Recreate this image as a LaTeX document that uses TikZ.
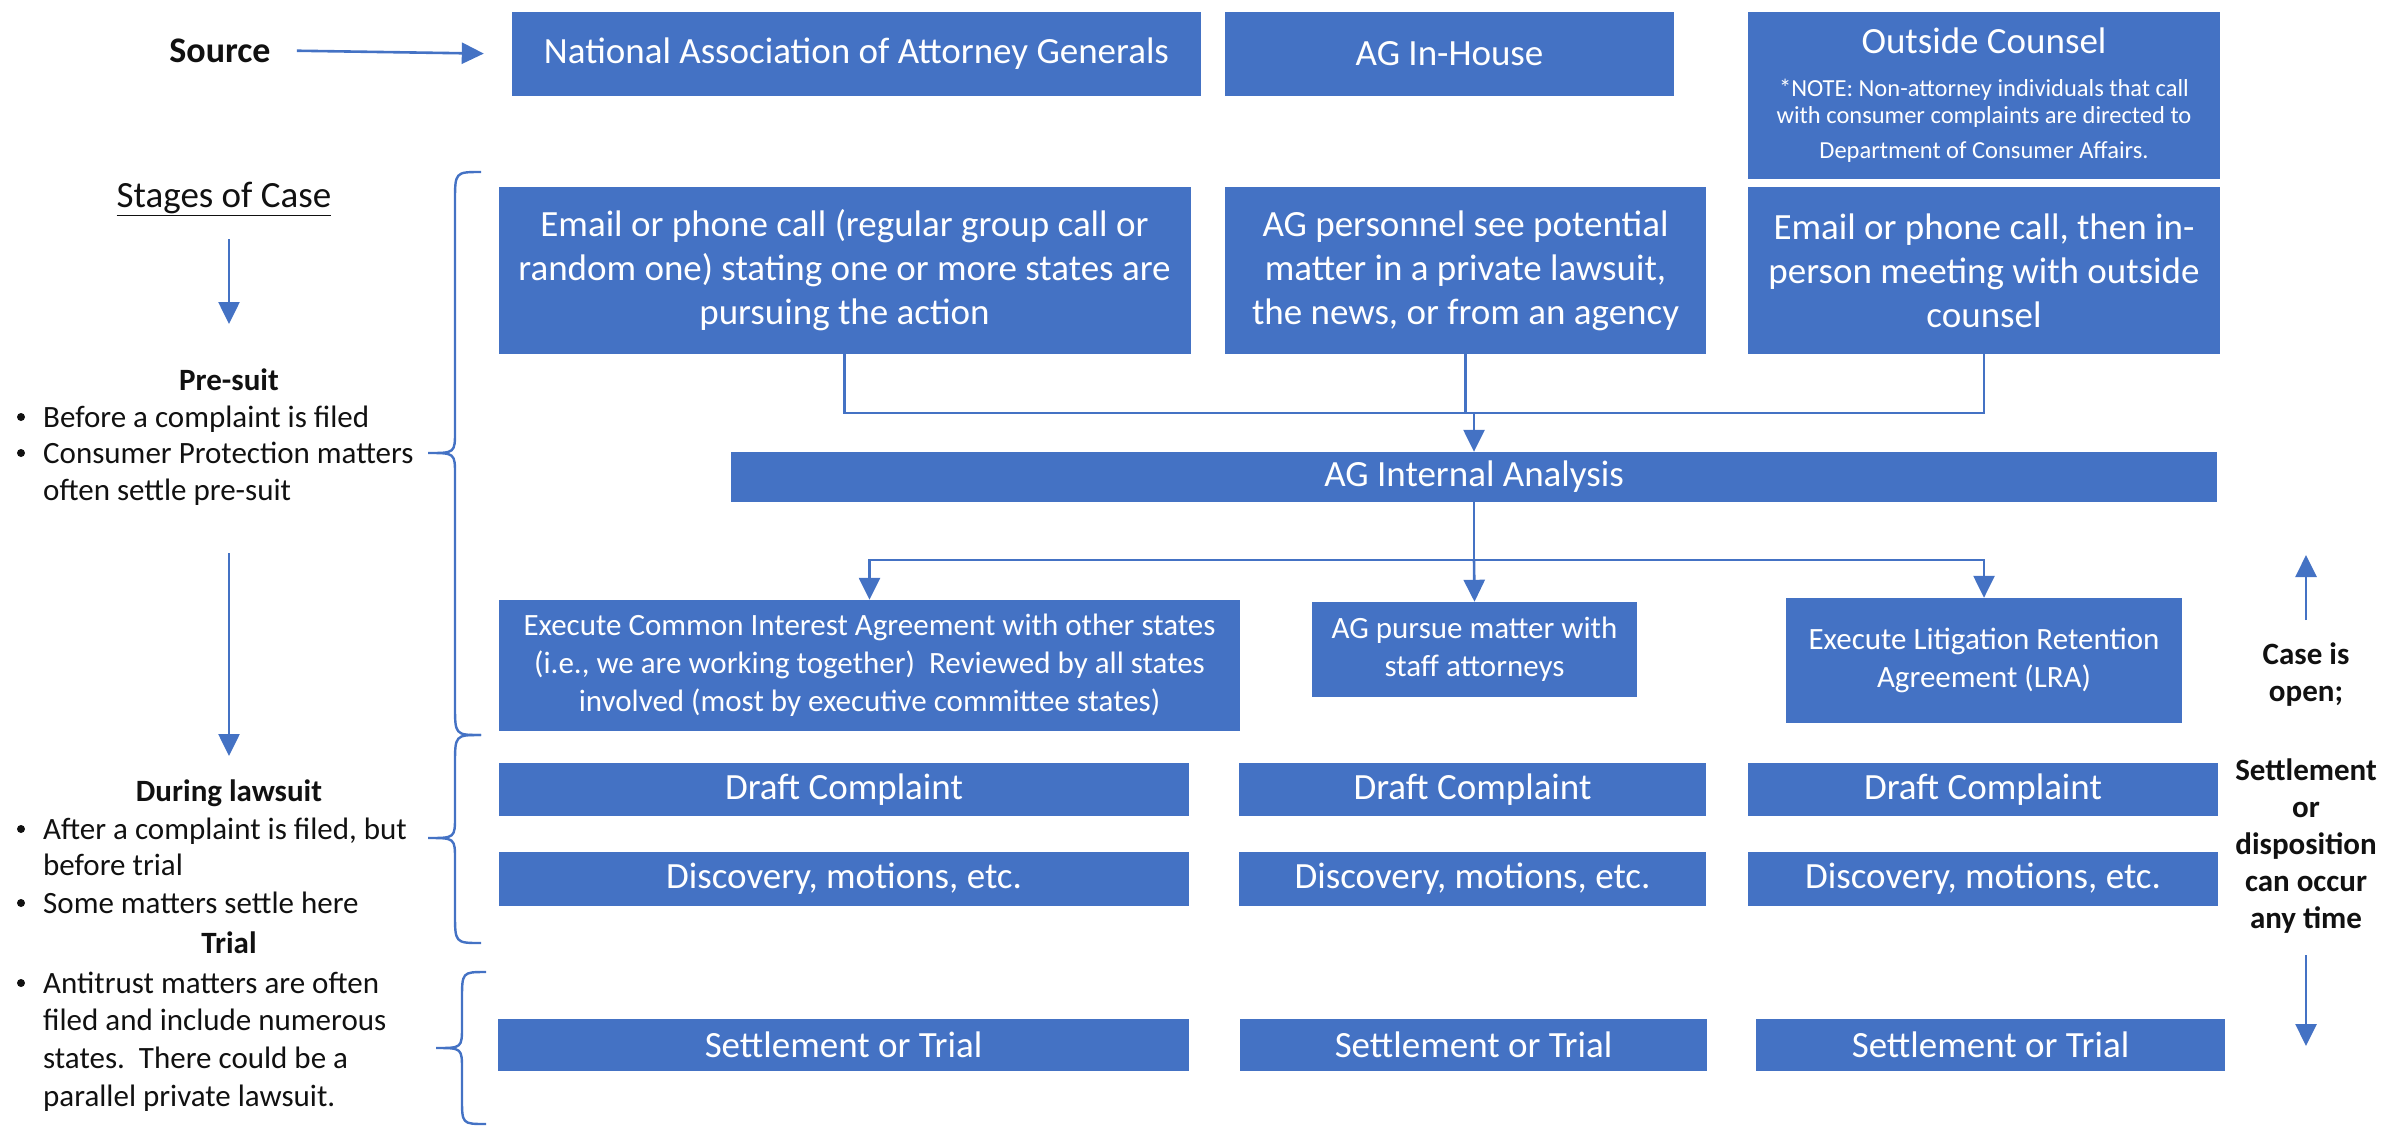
\documentclass[tikz,border=0pt]{standalone}
\usepackage{fontspec}
\setmainfont{Carlito}
\usetikzlibrary{arrows.meta,calc}
\definecolor{ofblue}{HTML}{4472C4}
\definecolor{inkc}{HTML}{111111}
\begin{document}
\begin{tikzpicture}[x=1pt,y=-1pt,
  box/.style={fill=ofblue, draw=none, text=white, inner sep=0pt, align=center,
    font=\fontsize{37}{44}\selectfont},
  sbox/.style={box, font=\fontsize{31}{38}\selectfont},
  boxtxt/.style={inner sep=0pt, text=white, font=\fontsize{37}{44}\selectfont},
  notetxt/.style={inner sep=0pt, text=white, font=\fontsize{24.5}{27}\selectfont},
  conn/.style={draw=ofblue, line width=2.6pt},
  arr/.style={conn, -{Triangle[width=21pt,length=22pt]}},
  bracestyle/.style={draw=ofblue, line width=2.4pt},
  sidetxt/.style={inner sep=0pt, text=inkc, font=\fontsize{31}{37}\selectfont},
  sidehead/.style={inner sep=0pt, text=inkc, font=\fontsize{31}{37}\selectfont\bfseries},
  bigtxt/.style={inner sep=0pt, text=inkc, font=\fontsize{37}{44}\selectfont},
  rtxt/.style={inner sep=0pt, text=inkc, align=center, font=\fontsize{31}{37}\selectfont\bfseries},
  bul/.style={circle, fill=inkc, inner sep=0pt, minimum size=8pt}
]
\useasboundingbox (0,0) rectangle (2384,1128);

% ---------- Source row ----------
\node[bigtxt, font=\fontsize{36}{44}\selectfont\bfseries, anchor=base] (source) at (220,62) {Source};
\node[box, minimum width=689pt, minimum height=84pt] (naag) at (856.5,54) {National Association of Attorney Generals};
\node[box, minimum width=449pt, minimum height=84pt] (inhouse) at (1449.5,54) {AG In-House};
\node[box, minimum width=472pt, minimum height=167pt] (outside) at (1984,95.5) {};
\node[boxtxt, anchor=base] (outsidetitle) at (1984,53) {Outside Counsel};
\node[notetxt, anchor=base] (note1) at (1984,96) {*NOTE: Non-attorney individuals that call};
\node[notetxt, anchor=base] (note2) at (1984,123) {with consumer complaints are directed to};
\node[notetxt, anchor=base] (note3) at (1984,158) {Department of Consumer Affairs.};
\draw[arr, shorten <=26pt, shorten >=28pt] (source.east) -- (naag.west);

% ---------- Row 2 ----------
\node[box, minimum width=692pt, minimum height=167pt] (email) at (844.5,270.5)
  {Email or phone call (regular group call or\\random one) stating one or more states are\\pursuing the action};
\node[box, minimum width=481pt, minimum height=167pt] (personnel) at (1465.5,270.5)
  {AG personnel see potential\\matter in a private lawsuit,\\the news, or from an agency};
\node[box, minimum width=472pt, minimum height=167pt] (email2) at (1984,270.5)
  {Email or phone call, then in-\\person meeting with outside\\counsel};

% ---------- Analysis ----------
\node[box, minimum width=1486pt, minimum height=50pt] (analysis) at (1474,477) {AG Internal Analysis};

\coordinate (bus1) at (1474,413);
\draw[conn] (email.south) |- (bus1) -| (email2.south);
\draw[conn] (personnel.south) -- (personnel.south |- bus1);
\draw[arr] (bus1) -- (analysis.north);

% ---------- Row 3 ----------
\node[sbox, minimum width=741pt, minimum height=131pt] (cia) at (869.5,665.5)
  {Execute Common Interest Agreement with other states\\(i.e., we are working together)\ \ Reviewed by all states\\involved (most by executive committee states)};
\node[sbox, minimum width=325pt, minimum height=95pt] (pursue) at (1474.5,649.5)
  {AG pursue matter with\\staff attorneys};
\node[sbox, minimum width=396pt, minimum height=125pt] (lra) at (1984,660.5)
  {Execute Litigation Retention\\Agreement (LRA)};

\coordinate (bus2) at (1474,560);
\draw[conn] (analysis.south) -- (bus2);
\draw[arr] (bus2) -| (cia.north);
\draw[arr] (bus2) -| (lra.north);
\draw[arr] (bus2) -- (pursue.north);

% ---------- Rows 4-6 ----------
\node[box, minimum width=690pt, minimum height=53pt] (draft1) at (844,789.5) {Draft Complaint};
\node[box, minimum width=467pt, minimum height=53pt] (draft2) at (1472.5,789.5) {Draft Complaint};
\node[box, minimum width=470pt, minimum height=53pt] (draft3) at (1983,789.5) {Draft Complaint};

\node[box, minimum width=690pt, minimum height=54pt] (disc1) at (844,879) {Discovery, motions, etc.};
\node[box, minimum width=467pt, minimum height=54pt] (disc2) at (1472.5,879) {Discovery, motions, etc.};
\node[box, minimum width=470pt, minimum height=54pt] (disc3) at (1983,879) {Discovery, motions, etc.};

\node[box, minimum width=691pt, minimum height=52pt] (settle1) at (843.5,1045) {Settlement or Trial};
\node[box, minimum width=467pt, minimum height=52pt] (settle2) at (1473.5,1045) {Settlement or Trial};
\node[box, minimum width=469pt, minimum height=52pt] (settle3) at (1990.5,1045) {Settlement or Trial};

% ---------- Right side ----------
\node[rtxt] (caseopen) at (2306,675) {Case is\\open;};
\node[rtxt] (anytime) at (2306,846) {Settlement\\or\\disposition\\can occur\\any time};
\coordinate (up1) at (2306,620);
\coordinate (up2) at (2306,555);
\coordinate (dn1) at (2306,955);
\coordinate (dn2) at (2306,1046);
\draw[arr] (up1) -- (up2);
\draw[arr] (dn1) -- (dn2);

% ---------- Left side ----------
\node[bigtxt, anchor=base] (stages) at (224,207) {\underline{Stages of Case}};
\coordinate (la1) at (229,239);
\coordinate (la2) at (229,324);
\draw[arr] (la1) -- (la2);

\node[sidehead, anchor=base] (presuit) at (229,390) {Pre-suit};
\node[bul] (pb1) at (21,417) {};
\node[sidetxt, anchor=base west] (pt1) at (43,427) {Before a complaint is filed};
\node[bul] (pb2) at (21,453) {};
\node[sidetxt, anchor=base west] (pt2) at (43,463) {Consumer Protection matters};
\node[sidetxt, anchor=base west] (pt3) at (43,500) {often settle pre-suit};

\coordinate (lb1) at (229,553);
\coordinate (lb2) at (229,756);
\draw[arr] (lb1) -- (lb2);

\node[sidehead, anchor=base] (during) at (229,801) {During lawsuit};
\node[bul] (db1) at (21,829) {};
\node[sidetxt, anchor=base west] (dt1) at (43,839) {After a complaint is filed, but};
\node[sidetxt, anchor=base west] (dt2) at (43,875) {before trial};
\node[bul] (db2) at (21,903) {};
\node[sidetxt, anchor=base west] (dt3) at (43,913) {Some matters settle here};

\node[sidehead, anchor=base] (trial) at (229,953) {Trial};
\node[bul] (tb1) at (21,983) {};
\node[sidetxt, anchor=base west] (tt1) at (43,993) {Antitrust matters are often};
\node[sidetxt, anchor=base west] (tt2) at (43,1030) {filed and include numerous};
\node[sidetxt, anchor=base west] (tt3) at (43,1068) {states.\ \ There could be a};
\node[sidetxt, anchor=base west] (tt4) at (43,1106) {parallel private lawsuit.};

% ---------- Braces ----------
\draw[bracestyle] (481,172) .. controls (455,172) .. (455,202) -- (455,431)
  .. controls (455,453) .. (428,453) .. controls (455,453) .. (455,475)
  -- (455,705) .. controls (455,735) .. (481,735);
\draw[bracestyle] (481,735) .. controls (455,735) .. (455,765) -- (455,816)
  .. controls (455,838) .. (428,838) .. controls (455,838) .. (455,860)
  -- (455,913) .. controls (455,943) .. (481,943);
\draw[bracestyle] (486,972) .. controls (462,972) .. (462,1000) -- (462,1026)
  .. controls (462,1048) .. (436,1048) .. controls (462,1048) .. (462,1070)
  -- (462,1098) .. controls (462,1124) .. (486,1124);
\end{tikzpicture}
\end{document}
